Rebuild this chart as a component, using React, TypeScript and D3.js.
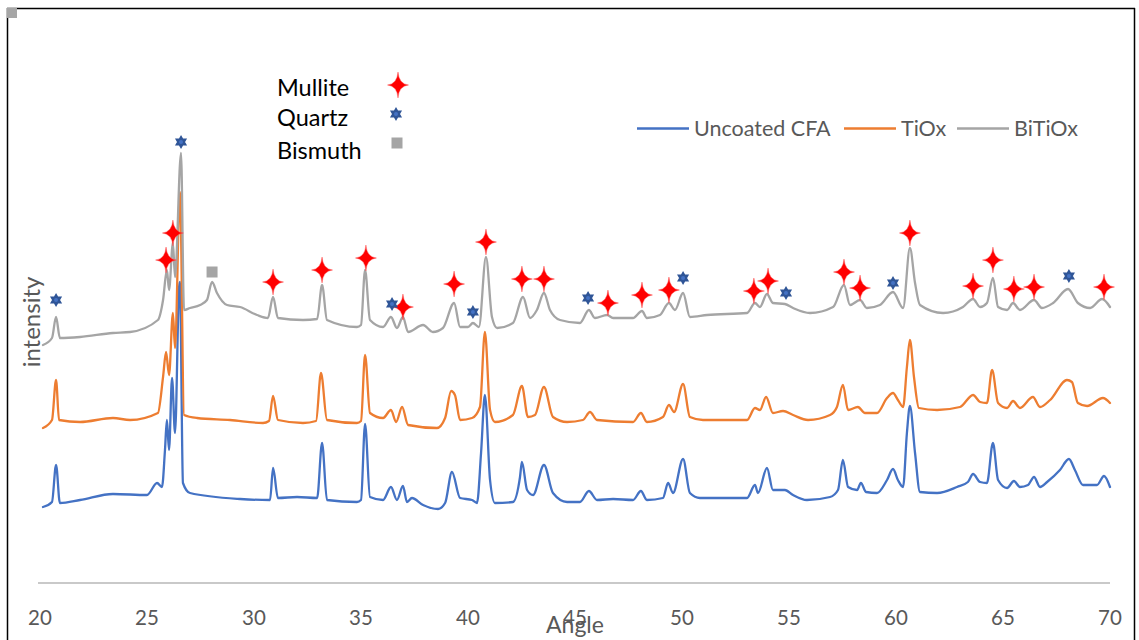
import React from "react";
import * as d3 from "d3";

// ---- data (angle in degrees 2θ, intensity in arbitrary units, offset traces) ----
const uncoated: [number, number][] = [
  [20.14, 76], [20.56, 81], [20.75, 118], [20.93, 80], [21.87, 83], [23.41, 89], [25.0, 88],
  [25.47, 100], [25.7, 96], [25.84, 133], [25.93, 163], [26.03, 133], [26.17, 205], [26.31, 150],
  [26.5, 296], [26.54, 301], [26.68, 100], [27.01, 90], [29.35, 84], [30.75, 83], [30.89, 115],
  [31.12, 85], [32.01, 86], [32.95, 85], [33.18, 140], [33.41, 83], [34.81, 81], [35.0, 83],
  [35.19, 159], [35.42, 86], [36.03, 83], [36.4, 96], [36.68, 83], [36.96, 97], [37.15, 81],
  [37.38, 85], [37.9, 78], [38.6, 74], [38.93, 80], [39.25, 111], [39.63, 85], [40.19, 83],
  [40.42, 80], [40.61, 130], [40.79, 188], [41.03, 103], [41.26, 80], [42.1, 81], [42.43, 106],
  [42.52, 121], [42.76, 93], [43.04, 88], [43.55, 118], [43.97, 90], [44.63, 81], [45.23, 81],
  [45.65, 92], [46.03, 83], [46.78, 84], [47.71, 83], [48.08, 92], [48.36, 83], [49.11, 85],
  [49.35, 100], [49.58, 90], [50.05, 124], [50.37, 90], [50.84, 85], [53.04, 85], [53.41, 98],
  [53.55, 90], [53.97, 115], [54.25, 93], [54.81, 93], [55.19, 88], [55.84, 83], [56.92, 86],
  [57.29, 93], [57.52, 123], [57.76, 96], [58.18, 93], [58.36, 100], [58.6, 91], [59.11, 90],
  [59.58, 103], [59.86, 114], [60.09, 103], [60.33, 96], [60.51, 150], [60.65, 177], [60.89, 130],
  [61.12, 91], [61.92, 90], [62.85, 96], [63.36, 101], [63.6, 109], [63.93, 101], [64.25, 100],
  [64.53, 140], [64.77, 103], [65.19, 95], [65.51, 102], [65.79, 96], [66.17, 98], [66.45, 106],
  [66.73, 96], [67.06, 101], [67.66, 113], [68.08, 124], [68.36, 113], [68.74, 98], [69.39, 98],
  [69.72, 107], [70.0, 96],
];

const tiox: [number, number][] = [
  [20.14, 155], [20.56, 163], [20.75, 203], [20.89, 163], [21.87, 161], [23.41, 165], [24.21, 163],
  [25.51, 170], [25.75, 206], [25.89, 231], [26.03, 208], [26.21, 270], [26.31, 235], [26.54, 391],
  [26.73, 168], [27.34, 165], [28.88, 163], [30.42, 160], [30.7, 162], [30.89, 187], [31.12, 163],
  [32.29, 160], [32.9, 162], [33.13, 210], [33.41, 163], [34.81, 160], [35.0, 162], [35.19, 228],
  [35.42, 170], [36.03, 165], [36.4, 173], [36.64, 161], [36.92, 176], [37.2, 158], [38.55, 155],
  [38.93, 165], [39.21, 192], [39.39, 188], [39.63, 163], [40.19, 165], [40.56, 176], [40.79, 251],
  [41.03, 173], [41.26, 161], [42.1, 168], [42.52, 197], [42.8, 166], [43.13, 168], [43.55, 196],
  [43.97, 166], [44.63, 161], [45.37, 163], [45.7, 171], [46.03, 163], [47.71, 161], [48.08, 170],
  [48.36, 161], [49.11, 166], [49.39, 178], [49.63, 171], [50.05, 199], [50.37, 166], [50.98, 163],
  [53.04, 163], [53.41, 175], [53.64, 173], [53.93, 186], [54.25, 170], [54.72, 172], [55.19, 168],
  [55.89, 163], [56.92, 168], [57.24, 176], [57.52, 198], [57.76, 173], [58.22, 176], [58.55, 170],
  [59.11, 170], [59.58, 185], [59.86, 190], [60.09, 183], [60.33, 176], [60.51, 216], [60.65, 243],
  [60.84, 206], [61.07, 175], [61.92, 173], [62.99, 176], [63.6, 188], [63.93, 181], [64.25, 180],
  [64.49, 213], [64.77, 180], [65.19, 175], [65.47, 182], [65.79, 175], [66.4, 186], [66.73, 176],
  [67.2, 183], [67.99, 203], [68.22, 201], [68.5, 180], [68.93, 177], [69.67, 185], [70.0, 180],
];

const bitiox: [number, number][] = [
  [20.14, 238], [20.56, 245], [20.75, 266], [20.93, 245], [21.87, 246], [23.41, 250], [24.21, 251],
  [25.51, 263], [25.75, 283], [25.93, 313], [26.03, 293], [26.21, 340], [26.31, 306], [26.59, 430],
  [26.73, 273], [27.01, 275], [27.48, 278], [27.8, 283], [28.04, 301], [28.27, 290], [28.74, 278],
  [29.35, 276], [30.14, 268], [30.65, 265], [30.89, 286], [31.12, 265], [32.29, 263], [32.95, 264],
  [33.18, 298], [33.41, 263], [34.81, 256], [35.0, 258], [35.19, 313], [35.42, 263], [36.03, 256],
  [36.4, 266], [36.68, 255], [36.96, 266], [37.2, 251], [37.9, 258], [38.36, 251], [38.83, 255],
  [39.35, 280], [39.63, 256], [40.0, 256], [40.23, 260], [40.51, 256], [40.84, 326], [41.12, 266],
  [41.36, 255], [42.1, 260], [42.57, 286], [42.9, 265], [43.22, 273], [43.55, 290], [43.83, 273],
  [44.3, 263], [45.23, 260], [45.65, 273], [45.93, 265], [46.5, 268], [46.78, 265], [47.71, 265],
  [48.13, 272], [48.36, 265], [48.97, 268], [49.39, 280], [49.67, 273], [50.05, 290], [50.37, 266],
  [51.17, 268], [53.04, 270], [53.41, 280], [53.64, 276], [53.97, 289], [54.25, 280], [54.81, 279],
  [55.19, 275], [55.98, 270], [57.06, 276], [57.57, 298], [57.85, 278], [58.32, 283], [58.64, 275],
  [59.25, 278], [59.86, 291], [60.33, 275], [60.65, 335], [60.89, 300], [61.12, 278], [62.2, 270],
  [63.13, 276], [63.6, 284], [63.93, 276], [64.25, 280], [64.53, 305], [64.77, 276], [65.19, 273],
  [65.47, 280], [65.79, 273], [66.45, 283], [66.82, 275], [67.34, 280], [68.04, 294], [68.5, 280],
  [69.07, 275], [69.63, 284], [70.0, 276],
];

// phase markers [angle, intensity]
const mulliteMarks: [number, number][] = [
  [25.89, 323], [26.21, 350], [30.89, 301], [33.18, 313], [35.23, 325], [36.96, 276], [39.35, 299],
  [40.84, 341], [42.52, 304], [43.55, 304], [46.54, 280], [48.13, 288], [49.39, 293], [53.36, 292],
  [54.02, 302], [57.57, 311], [58.32, 295], [60.65, 350], [63.6, 297], [64.53, 323], [65.51, 294],
  [66.45, 296], [69.72, 296],
];
const quartzMarks: [number, number][] = [
  [20.75, 283], [26.59, 441], [36.45, 279], [40.23, 271], [45.61, 285], [50.05, 305], [54.86, 290],
  [59.86, 300], [68.08, 307],
];
const bismuthMarks: [number, number][] = [[28.04, 311]];

const xTicks = [20, 25, 30, 35, 40, 45, 50, 55, 60, 65, 70];

const seriesNames = ["Uncoated CFA", "TiOx", "BiTiOx"];
const seriesColors = ["#4472C4", "#ED7D31", "#A5A5A5"];
const seriesData = [uncoated, tiox, bitiox];
const legendX = [637, 844, 957];

const phaseNames = ["Mullite", "Quartz", "Bismuth"];

const W = 1139;
const H = 640;
const FONT = "Lato, 'Open Sans', sans-serif";

const starPath =
  "M0,-13 Q0.9,-0.9 10.5,0 Q0.9,0.9 0,13 Q-0.9,0.9 -10.5,0 Q-0.9,-0.9 0,-13Z";

function hexagramPath(r: number): string {
  const pts = (start: number) =>
    [0, 1, 2].map((k) => {
      const a = ((start + k * 120) * Math.PI) / 180;
      return `${(r * Math.cos(a)).toFixed(2)},${(r * Math.sin(a)).toFixed(2)}`;
    });
  const up = pts(-90);
  const down = pts(90);
  return `M${up.join("L")}Z M${down.join("L")}Z`;
}

function Mullite({ x, y }: { x: number; y: number }) {
  return (
    <g transform={`translate(${x},${y})`}>
      <path d={starPath} fill="#FF0000" stroke="#FF6060" strokeWidth={0.8} strokeOpacity={0.6} />
    </g>
  );
}
function Quartz({ x, y }: { x: number; y: number }) {
  return (
    <g transform={`translate(${x},${y})`}>
      <path d={hexagramPath(7)} fill="#2F5597" />
      <circle r={2} fill="#4472C4" />
    </g>
  );
}
function Bismuth({ x, y }: { x: number; y: number }) {
  return <rect x={x - 5.5} y={y - 5.5} width={11} height={11} fill="#A5A5A5" />;
}

export default function App() {
  const x = d3.scaleLinear().domain([20, 70]).range([40, 1110]);
  const y = d3.scaleLinear().domain([0, 573]).range([583, 10]);
  const line = d3
    .line<[number, number]>()
    .x((d) => x(d[0]))
    .y((d) => y(d[1]))
    .curve(d3.curveMonotoneX);

  return (
    <svg
      width={W}
      height={H}
      style={{ position: "absolute", left: 0, top: 0, background: "#fff" }}
      fontFamily={FONT}
    >
      <rect x={0} y={0} width={W} height={H} fill="#fff" />
      {/* frame */}
      <line x1={7.5} y1={8} x2={7.5} y2={H} stroke="#000" strokeWidth={1.5} />
      <line x1={7} y1={8.5} x2={1135} y2={8.5} stroke="#000" strokeWidth={1.5} />
      <line x1={1134.5} y1={8} x2={1134.5} y2={H} stroke="#000" strokeWidth={1.5} />
      <rect x={7} y={8} width={10} height={10} fill="#A6A6A6" />

      {/* x axis */}
      <line x1={38} y1={583} x2={1110} y2={583} stroke="#C9C9C9" strokeWidth={2} />
      {xTicks.map((t) => (
        <text key={t} x={x(t)} y={625} textAnchor="middle" fontSize={20.5} fill="#595959">
          {t}
        </text>
      ))}
      <text x={575} y={633} textAnchor="middle" fontSize={23} fill="#595959">
        Angle
      </text>
      <text
        transform="translate(40,322) rotate(-90)"
        textAnchor="middle"
        fontSize={24}
        fill="#595959"
      >
        intensity
      </text>

      {/* series */}
      {seriesData.map((d, i) => (
        <path
          key={seriesNames[i]}
          d={line(d) || ""}
          fill="none"
          stroke={seriesColors[i]}
          strokeWidth={2.3}
          strokeLinejoin="round"
          strokeLinecap="round"
        />
      ))}

      {/* markers */}
      {mulliteMarks.map((m, i) => (
        <Mullite key={"m" + i} x={x(m[0])} y={y(m[1])} />
      ))}
      {quartzMarks.map((m, i) => (
        <Quartz key={"q" + i} x={x(m[0])} y={y(m[1])} />
      ))}
      {bismuthMarks.map((m, i) => (
        <Bismuth key={"b" + i} x={x(m[0])} y={y(m[1])} />
      ))}

      {/* series legend */}
      {seriesNames.map((n, i) => (
        <g key={"leg" + n}>
          <line
            x1={legendX[i]}
            x2={legendX[i] + 52}
            y1={128.5}
            y2={128.5}
            stroke={seriesColors[i]}
            strokeWidth={2.3}
          />
          <text x={legendX[i] + 57} y={135.5} fontSize={21.5} fill="#595959">
            {n}
          </text>
        </g>
      ))}

      {/* phase legend */}
      {phaseNames.map((n, i) => (
        <text key={"ph" + n} x={277} y={[96, 126, 159][i]} fontSize={23.5} fill="#000">
          {n}
        </text>
      ))}
      <Mullite x={398} y={85} />
      <Quartz x={396} y={114} />
      <Bismuth x={397} y={143} />
    </svg>
  );
}
